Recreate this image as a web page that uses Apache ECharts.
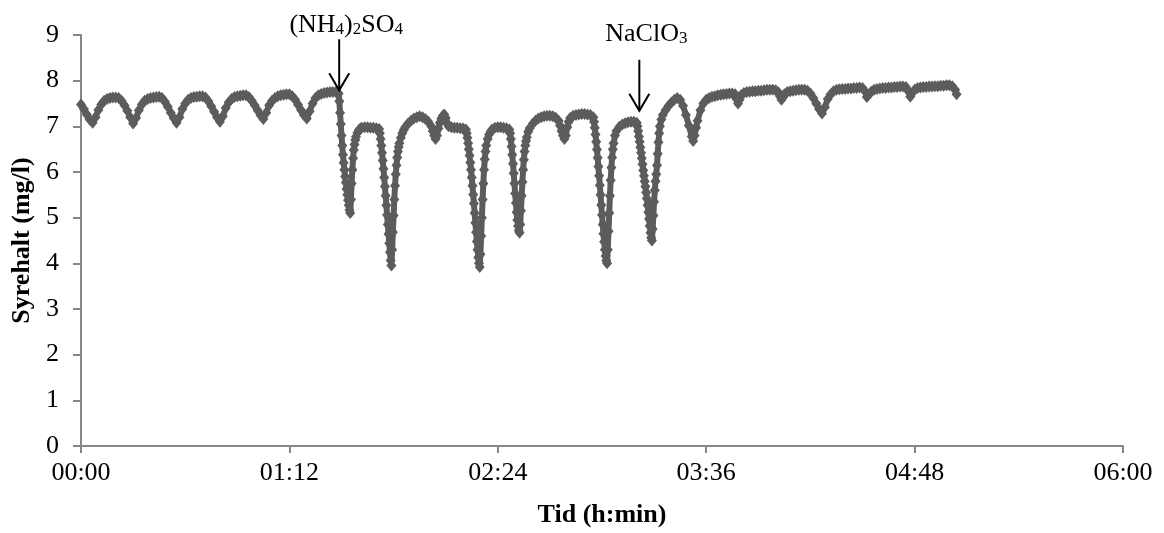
<!DOCTYPE html>
<html><head><meta charset="utf-8">
<script src="https://cdn.jsdelivr.net/npm/echarts@6/dist/echarts.min.js"></script>
<style>html,body{margin:0;padding:0;background:#fff}#c{width:1164px;height:533px}</style>
</head><body><div id="c"></div>
<script>
// ---- data ----
const xTickLabels = ['00:00', '01:12', '02:24', '03:36', '04:48', '06:00'];

const timeMin = [
  0,1,2,3,4,5,6,7,8,9,10,11,12,13,14,15,16,17,18,19,20,21,22,23,24,25,26,27,28,29,
  30,31,32,33,34,35,36,37,38,39,40,41,42,43,44,45,46,47,48,49,50,51,52,53,54,55,56,57,58,59,
  60,61,62,63,64,65,66,67,68,69,70,71,72,73,74,75,76,77,78,79,80,81,82,83,84,85,86,87,88,88.5,89,
  89.25,89.5,89.75,90,90.25,90.5,90.75,91,91.25,91.5,91.75,92,92.25,92.5,92.75,93,
  93.25,93.5,93.75,94,94.25,94.5,94.75,95,95.5,96,96.5,97,98,99,100,101,102,103,
  103.25,103.5,103.75,104,104.25,104.5,104.75,105,105.25,105.5,105.75,106,106.25,106.5,106.75,107,107.25,
  107.5,107.75,108,108.25,108.5,108.75,109,109.25,109.5,109.75,110,110.5,111,111.5,112,
  113,114,115,116,117,118,119,120,121,121.5,122,122.5,123,123.5,124,124.5,125,125.5,126,126.5,127,128,129,130,131,132,133,
  133.25,133.5,133.75,134,134.25,134.5,134.75,135,135.25,135.5,135.75,136,136.25,136.5,136.75,137,137.25,137.5,137.75,
  138,138.25,138.5,138.75,139,139.25,139.5,139.75,140,140.5,141,141.5,142,143,144,145,146,147,148,
  148.25,148.5,148.75,149,149.25,149.5,149.75,150,150.25,150.5,150.75,151,151.25,151.5,
  151.75,152,152.25,152.5,152.75,153,153.25,153.5,153.75,154,154.5,155,156,157,158,159,160,161,162,163,164,165,165.5,166,166.5,167,167.5,168,168.5,169,170,171,172,173,174,175,176,177,
  177.25,177.5,177.75,178,178.25,178.5,178.75,179,179.25,179.5,179.75,180,180.25,180.5,180.75,181,181.25,181.5,181.75,
  182,182.25,182.5,182.75,183,183.25,183.5,183.75,184,184.5,185,186,187,188,189,190,191,192,
  192.25,192.5,192.75,193,193.25,193.5,193.75,194,194.25,194.5,194.75,195,195.25,195.5,195.75,196,196.25,196.5,196.75,197,197.25,
  197.5,197.75,198,198.25,198.5,198.75,199,199.25,199.5,199.75,200,200.5,201,202,203,204,205,206,207,208,209,210,211,211.5,212,212.5,213,
  214,215,216,217,218,219,220,221,222,223,224,225,226,226.5,227,227.5,228,229,230,231,232,233,234,235,236,237,238,239,240,241,241.5,242,242.5,243,
  244,245,246,247,248,249,250,251,252,253,254,255,256,257,258,259,260,261,262,263,264,265,266,267,268,269,270,271,271.5,272,
  273,274,275,276,277,278,279,280,281,282,283,284,285,286,286.5,287,288,289,290,291,292,293,294,295,296,297,298,299,300,301,302,302.5
];

const oxygen = [
  7.48,7.38,7.26,7.15,7.08,7.2,7.36,7.48,7.56,7.6,7.62,7.63,7.63,7.62,7.56,7.46,7.34,7.2,7.06,7.18,7.35,7.48,7.56,7.6,7.62,7.63,7.64,7.65,7.62,7.54,
  7.43,7.3,7.18,7.08,7.2,7.38,7.5,7.58,7.62,7.64,7.65,7.66,7.66,7.63,7.55,7.44,7.32,7.2,7.1,7.22,7.4,7.52,7.6,7.64,7.66,7.67,7.68,7.68,7.64,7.56,
  7.46,7.35,7.24,7.16,7.3,7.46,7.56,7.62,7.66,7.68,7.69,7.7,7.7,7.66,7.58,7.47,7.36,7.25,7.17,7.33,7.5,7.62,7.68,7.71,7.73,7.74,7.75,7.75,7.75,7.74,7.72,
  7.55,7.3,7.05,6.8,6.58,6.38,6.2,6.05,5.9,5.77,5.63,5.5,5.38,5.27,5.17,5.1,
  5.4,5.75,6.05,6.3,6.48,6.6,6.7,6.77,6.86,6.92,6.95,6.97,6.98,6.98,6.97,6.97,6.96,6.94,
  6.85,6.72,6.58,6.42,6.25,6.07,5.88,5.68,5.48,5.27,5.06,4.85,4.64,4.44,4.24,4.06,3.95,
  4.3,4.68,5.05,5.4,5.7,5.95,6.15,6.32,6.45,6.55,6.63,6.75,6.85,6.92,6.98,
  7.06,7.12,7.17,7.2,7.22,7.2,7.16,7.1,7.0,6.9,6.8,6.72,6.8,6.95,7.08,7.17,7.23,7.26,7.18,7.07,7.0,6.98,6.97,6.97,6.96,6.95,6.93,
  6.85,6.75,6.63,6.5,6.36,6.21,6.05,5.88,5.7,5.51,5.31,5.1,4.89,4.68,4.48,4.3,4.13,4.0,3.92,
  4.2,4.6,5.0,5.4,5.75,6.05,6.28,6.45,6.58,6.72,6.82,6.88,6.93,6.97,6.98,6.98,6.97,6.96,6.93,
  6.85,6.72,6.56,6.38,6.18,5.97,5.75,5.53,5.32,5.12,4.95,4.82,4.72,4.67,
  4.85,5.15,5.48,5.78,6.05,6.27,6.45,6.58,6.68,6.76,6.88,6.96,7.05,7.12,7.17,7.2,7.22,7.23,7.23,7.22,7.19,7.12,7.02,6.9,6.8,6.72,6.8,6.98,7.1,7.18,7.23,7.25,7.26,7.27,7.27,7.26,7.25,7.2,
  7.1,6.97,6.82,6.66,6.49,6.31,6.12,5.92,5.71,5.5,5.28,5.06,4.85,4.65,4.47,4.3,4.16,4.06,4.0,
  4.3,4.7,5.1,5.48,5.82,6.1,6.32,6.5,6.63,6.8,6.9,6.99,7.04,7.07,7.09,7.1,7.1,7.08,
  7.0,6.9,6.78,6.66,6.54,6.42,6.3,6.17,6.04,5.92,5.8,5.68,5.55,5.42,5.27,5.12,4.97,4.82,4.67,4.56,4.5,
  4.75,5.05,5.35,5.6,5.8,5.95,6.15,6.4,6.65,6.85,7.0,7.15,7.25,7.36,7.45,7.52,7.58,7.62,7.58,7.45,7.25,7.02,6.78,6.68,6.8,6.97,7.12,
  7.35,7.5,7.58,7.62,7.65,7.66,7.68,7.69,7.7,7.71,7.72,7.72,7.7,7.6,7.5,7.58,7.68,7.73,7.75,7.76,7.77,7.77,7.78,7.78,7.79,7.8,7.8,7.8,7.79,7.74,7.66,7.58,7.63,7.7,
  7.75,7.77,7.78,7.79,7.8,7.8,7.8,7.78,7.72,7.62,7.5,7.38,7.28,7.42,7.6,7.7,7.77,7.8,7.81,7.82,7.82,7.83,7.83,7.84,7.84,7.85,7.84,7.76,7.64,7.68,
  7.76,7.8,7.82,7.83,7.84,7.84,7.85,7.85,7.86,7.86,7.87,7.87,7.86,7.76,7.65,7.72,7.8,7.84,7.85,7.86,7.86,7.87,7.87,7.88,7.88,7.89,7.89,7.9,7.9,7.88,7.8,7.7
];

// chemical additions (annotation arrows)
const additionLabels = ['(NH{s|4}){s|2}SO{s|4}', 'NaClO{s|3}'];
const additionTimes = [89.2, 192.9];
const arrowTipValues = [7.79, 7.34];
const labelBottomValues = [8.93, 8.74];

// ---- chart ----
const FONT = '"Liberation Serif", "Times New Roman", serif';
const AXIS_COLOR = '#878787';
const MARK_COLOR = '#5c5c5c';
const n = Math.min(timeMin.length, oxygen.length);
const points = [];
for (let i = 0; i < n; i++) points.push([timeMin[i], oxygen[i]]);

const annData = additionTimes.map((t, i) => [t, arrowTipValues[i], labelBottomValues[i], i]);

const chart = echarts.init(document.getElementById('c'), null, { renderer: 'canvas' });
chart.setOption({
  animation: false,
  backgroundColor: '#ffffff',
  grid: { left: 81, right: 41, top: 35, bottom: 83 },
  xAxis: {
    type: 'value', min: 0, max: 360, interval: 72,
    name: 'Tid (h:min)', nameLocation: 'middle', nameGap: 56,
    nameTextStyle: { fontFamily: FONT, fontSize: 26, fontWeight: 'bold', color: '#000' },
    axisLine: { show: true, onZero: false, lineStyle: { color: AXIS_COLOR, width: 2 } },
    axisTick: { show: true, length: 7, lineStyle: { color: AXIS_COLOR, width: 2 } },
    axisLabel: {
      fontFamily: FONT, fontSize: 26, color: '#000', margin: 14,
      formatter: v => xTickLabels[Math.round(v / 72)] || ''
    },
    splitLine: { show: false }
  },
  yAxis: {
    type: 'value', min: 0, max: 9, interval: 1,
    name: 'Syrehalt (mg/l)', nameLocation: 'middle', nameGap: 44,
    nameTextStyle: { fontFamily: FONT, fontSize: 26, fontWeight: 'bold', color: '#000' },
    axisLine: { show: true, lineStyle: { color: AXIS_COLOR, width: 2 } },
    axisTick: { show: true, length: 8, lineStyle: { color: AXIS_COLOR, width: 2 } },
    axisLabel: { fontFamily: FONT, fontSize: 26, color: '#000', margin: 22 },
    splitLine: { show: false }
  },
  series: [
    {
      type: 'line',
      data: points,
      showSymbol: false,
      symbol: 'none',
      lineStyle: { color: MARK_COLOR, width: 6, join: 'round', cap: 'round' },
      z: 1,
      silent: true
    },
    {
      type: 'scatter',
      data: points,
      symbol: 'diamond',
      symbolSize: [10, 12],
      itemStyle: { color: MARK_COLOR, opacity: 1 },
      z: 2
    },
    {
      type: 'custom',
      data: annData,
      clip: false,
      z: 5,
      silent: true,
      renderItem: function (params, api) {
        const tip = api.coord([api.value(0), api.value(1)]);
        const lab = api.coord([api.value(0), api.value(2)]);
        const idx = api.value(3);
        const x = tip[0], y = tip[1], top = y - 51;
        return {
          type: 'group',
          children: [
            { type: 'line', shape: { x1: x, y1: top, x2: x, y2: y }, style: { stroke: '#000', lineWidth: 2 } },
            { type: 'polyline', shape: { points: [[x - 10, y - 17], [x, y], [x + 10, y - 17]] }, style: { stroke: '#000', lineWidth: 2, fill: null } },
            {
              type: 'text', x: x + 7, y: lab[1],
              style: {
                text: additionLabels[idx],
                fontFamily: FONT, fontSize: 26, fill: '#000',
                align: 'center', verticalAlign: 'bottom',
                rich: { s: { fontFamily: FONT, fontSize: 17, fill: '#000', verticalAlign: 'bottom', padding: [0, 0, 0, 0] } }
              }
            }
          ]
        };
      }
    }
  ]
});
</script>
</body></html>
